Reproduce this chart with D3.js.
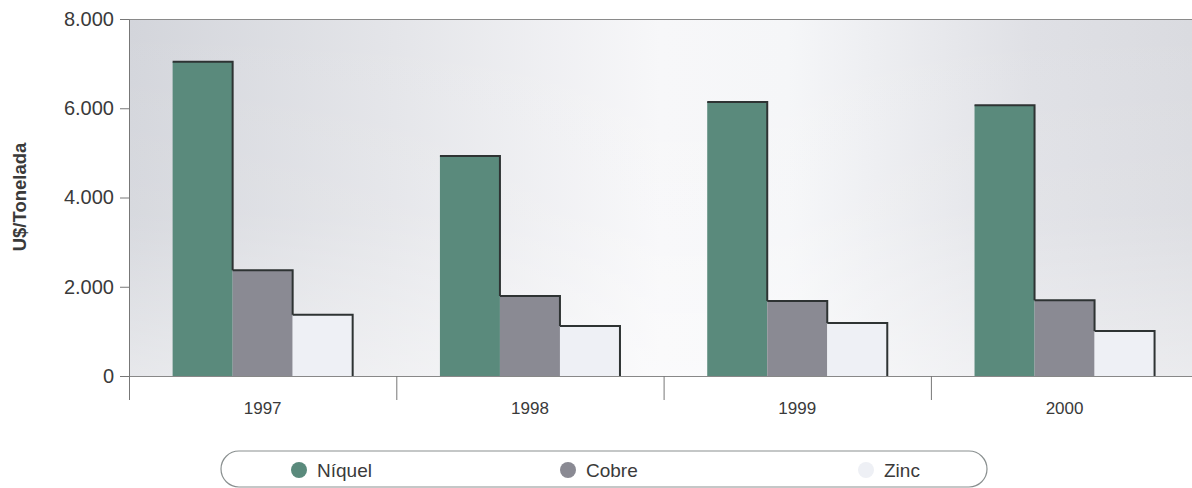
<!DOCTYPE html>
<html>
<head>
<meta charset="utf-8">
<script src="https://cdn.jsdelivr.net/npm/d3@7"></script>
<style>
  html, body { margin: 0; padding: 0; background: #ffffff; }
  svg { display: block; font-family: "Liberation Sans", Arial, sans-serif; }
</style>
</head>
<body>
<svg id="chart" width="1192" height="488"></svg>
<script>
const years = ["1997", "1998", "1999", "2000"];
const seriesNames = ["Níquel", "Cobre", "Zinc"];
const niquel = [7040, 4930, 6140, 6070];
const cobre = [2370, 1790, 1680, 1700];
const zinc = [1370, 1120, 1190, 1010];
const tickValues = [0, 2000, 4000, 6000, 8000];
const tickLabels = ["0", "2.000", "4.000", "6.000", "8.000"];
const colors = ["#5a8a7c", "#8a8a93", "#eef0f5"];

const seriesValues = [niquel, cobre, zinc];
const svg = d3.select("#chart");

const plotLeft = 129, plotTop = 19, plotBottom = 376;
const x0 = d3.scaleBand().domain(years).range([plotLeft, plotLeft + 4 * 267.3]).paddingInner(0).paddingOuter(0);
const x1 = d3.scaleBand().domain(seriesNames).range([0, x0.bandwidth()]).paddingInner(0).paddingOuter(0.727);
const y = d3.scaleLinear().domain([0, 8000]).range([plotBottom, plotTop]);

// background gradient
const defs = svg.append("defs");
const g1 = defs.append("linearGradient").attr("id", "bg").attr("x1", "0%").attr("y1", "0%").attr("x2", "100%").attr("y2", "0%");
[[0, "#d3d5db"], [0.25, "#e4e5e9"], [0.5, "#f7f7f9"], [0.62, "#f5f6f8"], [0.85, "#dfe0e5"], [1, "#dadbe0"]]
  .forEach(([o, c]) => g1.append("stop").attr("offset", o).attr("stop-color", c));
const g2 = defs.append("linearGradient").attr("id", "fade").attr("x1", "0%").attr("y1", "0%").attr("x2", "0%").attr("y2", "100%");
[[0, "#ffffff", 0], [0.55, "#ffffff", 0.1], [1, "#ffffff", 0.45]]
  .forEach(([o, c, a]) => g2.append("stop").attr("offset", o).attr("stop-color", c).attr("stop-opacity", a));

svg.append("rect").attr("x", plotLeft).attr("y", plotTop).attr("width", 1192 - plotLeft).attr("height", plotBottom - plotTop).attr("fill", "url(#bg)");
svg.append("rect").attr("x", plotLeft).attr("y", plotTop).attr("width", 1192 - plotLeft).attr("height", plotBottom - plotTop).attr("fill", "url(#fade)");

// top border
svg.append("line").attr("x1", plotLeft).attr("x2", 1192).attr("y1", plotTop + 0.5).attr("y2", plotTop + 0.5).attr("stroke", "#8a8a8a").attr("stroke-width", 1);

// bars
const groups = svg.append("g").selectAll("g").data(years).join("g")
  .attr("transform", d => `translate(${x0(d)},0)`);
groups.each(function(year, i) {
  const g = d3.select(this);
  seriesNames.forEach((s, j) => {
    const v = seriesValues[j][i];
    g.append("rect").attr("x", x1(s)).attr("y", y(v)).attr("width", x1.bandwidth()).attr("height", y(0) - y(v))
      .attr("fill", colors[j]);
  });
  seriesNames.forEach((s, j) => {
    const v = seriesValues[j][i];
    const xr = x1(s) + x1.bandwidth();
    const nextTop = j < seriesNames.length - 1 ? y(seriesValues[j + 1][i]) : y(0);
    g.append("path")
      .attr("d", `M${x1(s)},${y(v)} H${xr} V${nextTop}`)
      .attr("fill", "none").attr("stroke", "#2e3333").attr("stroke-width", 2);
  });
});

// y axis
const yAxis = d3.axisLeft(y).tickValues(tickValues).tickFormat((d, i) => tickLabels[i]).tickSize(9).tickSizeOuter(0);
const ya = svg.append("g").attr("transform", `translate(${plotLeft},0)`).call(yAxis);
ya.select(".domain").attr("stroke", "#777");
ya.selectAll(".tick line").attr("stroke", "#777");
ya.selectAll(".tick text").attr("font-size", 20).attr("fill", "#3a3a3a").attr("x", -15)
  .attr("font-family", "'Liberation Sans', Arial, sans-serif");

// x axis
svg.append("line").attr("x1", plotLeft).attr("x2", 1192).attr("y1", plotBottom + 0.5).attr("y2", plotBottom + 0.5).attr("stroke", "#888");
const xa = svg.append("g");
xa.selectAll("line.sep").data(years).join("line").attr("class", "sep")
  .attr("x1", d => x0(d) + 0.5).attr("x2", d => x0(d) + 0.5).attr("y1", plotBottom).attr("y2", 400)
  .attr("stroke", "#777");
xa.selectAll("text").data(years).join("text")
  .attr("x", d => x0(d) + x0.bandwidth() / 2).attr("y", 414)
  .attr("text-anchor", "middle").attr("font-size", 17).attr("fill", "#3a3a3a").text(d => d);

// y title
svg.append("text").attr("transform", "translate(26,197) rotate(-90)").attr("text-anchor", "middle")
  .attr("font-size", 18.5).attr("font-weight", "bold").attr("fill", "#3a3a3a").text("U$/Tonelada");

// legend
svg.append("rect").attr("x", 221).attr("y", 451).attr("width", 766).attr("height", 36).attr("rx", 18).attr("ry", 18)
  .attr("fill", "#ffffff").attr("stroke", "#8a9090").attr("stroke-width", 1.2);
const legendX = [299, 568, 866];
const lg = svg.append("g").selectAll("g").data(seriesNames).join("g")
  .attr("transform", (d, i) => `translate(${legendX[i]},470)`);
lg.append("circle").attr("r", 8).attr("fill", (d, i) => colors[i]);
lg.append("text").attr("x", 18).attr("y", 6.5).attr("font-size", 19).attr("fill", "#3a3a3a").text(d => d);
</script>
</body>
</html>
